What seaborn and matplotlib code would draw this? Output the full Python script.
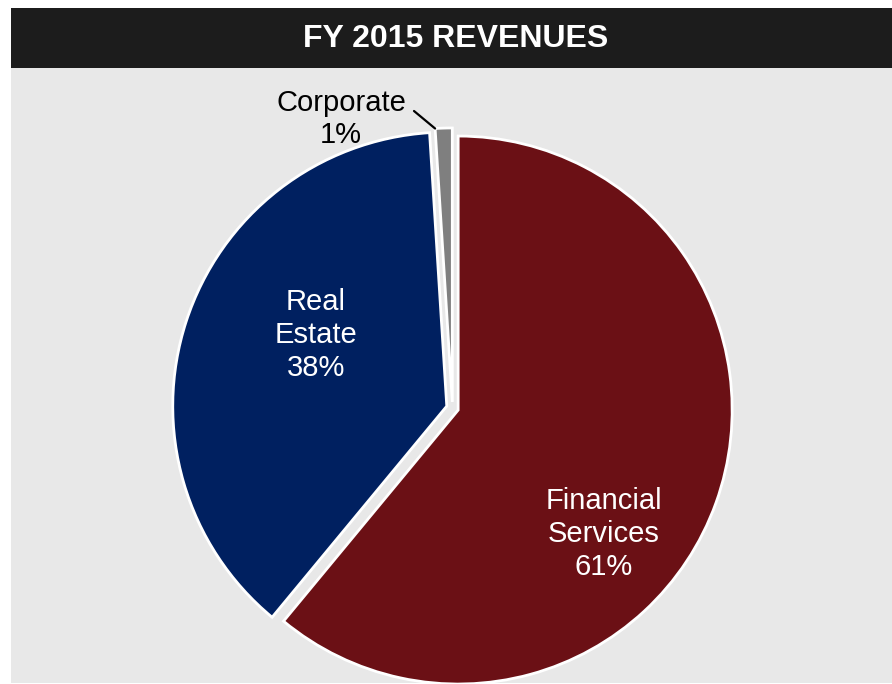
import numpy as np
import matplotlib
matplotlib.use("Agg")
import matplotlib.pyplot as plt
import seaborn as sns
from matplotlib.patches import Rectangle

# Revenue split by segment
segments = ["Financial\nServices", "Real\nEstate", "Corporate"]
shares = [61, 38, 1]
title = "FY 2015 REVENUES"

sns.set_theme(style="white")
plt.rcParams["font.family"] = ["Liberation Sans", "DejaVu Sans"]

colors = sns.color_palette(["#6B1015", "#002060", "#7F7F7F"])

W, H = 892, 684
fig = plt.figure(figsize=(W / 100, H / 100), dpi=100)
fig.patch.set_facecolor("white")
ax = fig.add_axes([0, 0, 1, 1])

# panel background and title band (pixel units, y up)
ax.add_patch(Rectangle((11, 1), W - 11, 615, facecolor="#E8E8E8", edgecolor="none", zorder=0))
ax.add_patch(Rectangle((11, 616), W - 11, 60, facecolor="#1C1C1C", edgecolor="none", zorder=0))
ax.text(456, 645, title, color="white", fontsize=23, fontweight="bold",
        ha="center", va="center", zorder=5)

center = (452.5, 276)
radius = 274
# explode is given in data units, so scale the slice gap by the radius
wedges, _ = ax.pie(shares, colors=colors, startangle=90, counterclock=False,
                   explode=[0.022 * radius] * len(shares), center=center, radius=radius,
                   wedgeprops=dict(edgecolor="white", linewidth=2), frame=True)

ax.set_xlim(0, W)
ax.set_ylim(0, H)
ax.set_aspect("equal")
ax.axis("off")

label_pos = [(604, 150), (316, 349), (341, 565)]
label_col = ["white", "white", "black"]
for name, val, (lx, ly), c in zip(segments, shares, label_pos, label_col):
    ax.text(lx, ly, f"{name}\n{val}%", color=c, fontsize=21, ha="center",
            va="center", linespacing=1.22, zorder=6)

# leader line to the small Corporate slice
corp = wedges[2]
cx, cy = corp.center
t = np.deg2rad(corp.theta2)
ex, ey = cx + corp.r * np.cos(t), cy + corp.r * np.sin(t)
ax.plot([414, ex], [573, ey], color="black", lw=1.6, zorder=6)

fig.savefig("out.png", dpi=100, facecolor=fig.get_facecolor())
